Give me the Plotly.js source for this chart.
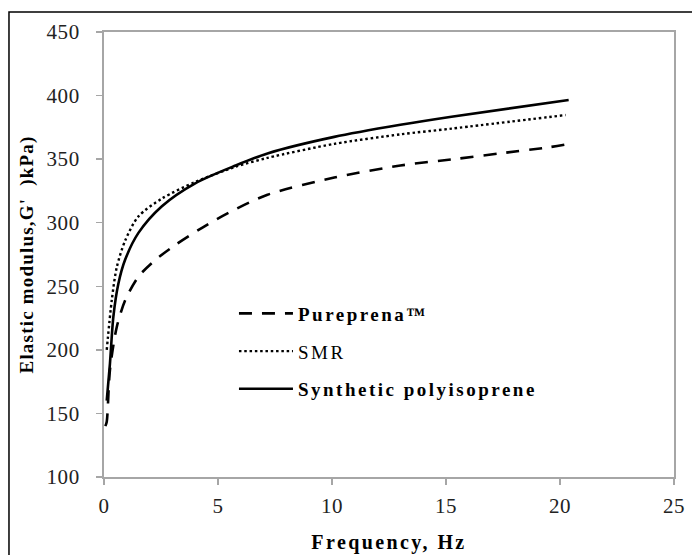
<!DOCTYPE html>
<html>
<head>
<meta charset="utf-8">
<script src="https://cdn.plot.ly/plotly-3.0.1.min.js"></script>
<style>
html,body{margin:0;padding:0;background:#fff;}
#chart{width:692px;height:555px;}
#chart .legendtext{letter-spacing:2.5px;}
#chart .legend .scrollbox{clip-path:none !important;}
#chart .xtitle{letter-spacing:2.4px;}
#chart .ytitle{letter-spacing:1.2px;}
#chart .xtick text,#chart .ytick text{letter-spacing:0.6px;}
</style>
</head>
<body>
<div id="chart"></div>
<script>
// Pureprena (dashed)
const pureX = [0.06, 0.12, 0.26, 0.56, 0.93, 1.51, 2.25, 3.13, 4.3, 5.48, 7.17, 10.1, 13.0, 15.35, 17.4, 19.5, 20.38];
const pureY = [140, 143.5, 184, 218, 239, 257.6, 270.7, 282.5, 296, 308, 322, 335.5, 345, 350, 354.6, 359.3, 362];
// SMR (dotted)
const smrX = [0.12, 0.34, 0.56, 0.93, 1.51, 2.54, 4.0, 5.77, 7.17, 10.1, 13.0, 15.24, 20.25];
const smrY = [200, 239, 265, 286, 305, 319, 332, 344, 351, 362, 369.5, 374, 384.7];
// Synthetic polyisoprene (solid)
const synX = [0.12, 0.26, 0.41, 0.63, 0.93, 1.51, 2.54, 4.0, 5.77, 7.17, 10.1, 13.0, 15.24, 20.38];
const synY = [160, 189, 226, 252, 271, 292, 313, 331, 345, 354.5, 367.5, 377, 383.4, 396.5];

const seriesNames = ['<b>Pureprena™</b>', 'SMR', '<b>Synthetic polyisoprene</b>'];
const xTicks = [0, 5, 10, 15, 20, 25];
const yTicks = [100, 150, 200, 250, 300, 350, 400, 450];

const serif = 'Liberation Serif, Times New Roman, serif';
const axisGray = '#a6a6a6';

const traces = [
  {x: pureX, y: pureY, name: seriesNames[0], mode: 'lines', legendgroup: 'a',
   line: {color: '#000', width: 2.6, dash: '13px,10px', shape: 'spline', smoothing: 0.8}},
  {x: smrX, y: smrY, name: seriesNames[1], mode: 'lines', legendgroup: 'b',
   line: {color: '#000', width: 2.4, dash: '2.5px,2.8px', shape: 'spline', smoothing: 0.8}},
  {x: synX, y: synY, name: seriesNames[2], mode: 'lines', legendgroup: 'c',
   line: {color: '#000', width: 2.6, shape: 'spline', smoothing: 0.8}}
];

const layout = {
  width: 692, height: 555,
  margin: {l: 104, r: 18, t: 32, b: 78},
  paper_bgcolor: '#fff', plot_bgcolor: '#fff',
  showlegend: true,
  legend: {x: 0.228, y: 0.41, xanchor: 'left', yanchor: 'top',
           font: {family: serif, size: 19, color: '#000'},
           tracegroupgap: 10, itemwidth: 54, bgcolor: 'rgba(0,0,0,0)'},
  xaxis: {
    range: [0, 25], tickvals: xTicks, ticktext: xTicks.map(String),
    showgrid: false, zeroline: false,
    showline: true, linecolor: axisGray, linewidth: 2, mirror: true,
    ticks: 'outside', ticklen: 6, tickwidth: 1.5, tickcolor: axisGray,
    ticklabelstandoff: 3,
    tickfont: {family: serif, size: 21, color: '#222'},
    title: {text: '<b>Frequency, Hz</b>', font: {family: serif, size: 20, color: '#000'}, standoff: 18}
  },
  yaxis: {
    range: [100, 450], tickvals: yTicks, ticktext: yTicks.map(String),
    showgrid: false, zeroline: false,
    showline: true, linecolor: axisGray, linewidth: 2, mirror: true,
    ticks: 'outside', ticklen: 6, tickwidth: 1.5, tickcolor: axisGray,
    ticklabelstandoff: 12,
    tickfont: {family: serif, size: 21, color: '#222'},
    title: {text: "<b>Elastic modulus,G'  )kPa)</b>", font: {family: serif, size: 19, color: '#000'}, standoff: 10}
  },
  xaxis2: {overlaying: 'x', anchor: 'y', range: [0, 25], tickvals: xTicks, showticklabels: false,
           ticks: 'inside', ticklen: 7, tickwidth: 1.5, tickcolor: axisGray,
           showgrid: false, zeroline: false, showline: false},
  yaxis2: {overlaying: 'y', anchor: 'x', range: [100, 450], tickvals: yTicks, showticklabels: false,
           ticks: 'inside', ticklen: 7, tickwidth: 1.5, tickcolor: axisGray,
           showgrid: false, zeroline: false, showline: false},
  shapes: [
    {type: 'rect', xref: 'paper', yref: 'paper', x0: -0.1667, x1: 1.2, y0: -0.4, y1: 1.045,
     line: {color: '#000', width: 1.5}, fillcolor: 'rgba(0,0,0,0)', layer: 'below'}
  ]
};

Plotly.newPlot('chart', traces, layout, {staticPlot: true, displayModeBar: false});
</script>
</body>
</html>
